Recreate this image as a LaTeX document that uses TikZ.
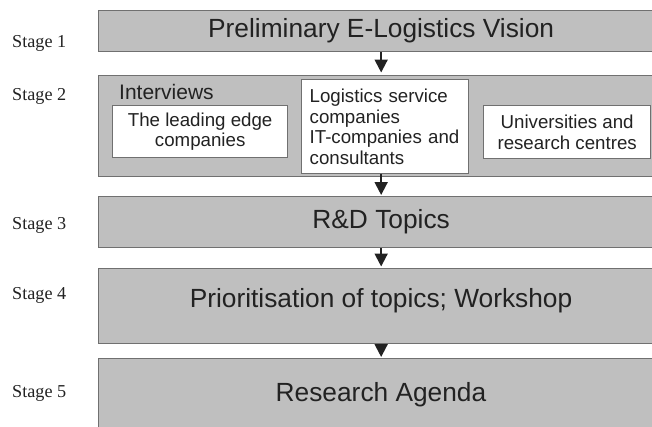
\documentclass[tikz,border=0pt]{standalone}
\usepackage{fontspec}
\setmainfont{Liberation Serif}
\newfontfamily\arialf{Liberation Sans}
\usetikzlibrary{arrows.meta}
\definecolor{boxgray}{RGB}{191,191,191}
\definecolor{edgegray}{RGB}{112,112,112}
\definecolor{inkc}{RGB}{34,34,34}
\begin{document}
\begin{tikzpicture}[x=1pt,y=-1pt,
  stagebox/.style={draw=edgegray, fill=boxgray, line width=1.3pt, anchor=north west, inner sep=0pt, minimum width=565pt},
  whitebox/.style={draw=edgegray, fill=white, line width=1.3pt, anchor=north west, inner sep=0pt, text=inkc,
     font=\arialf\fontsize{18.7}{20.5}\selectfont},
  bigtxt/.style={font=\arialf\fontsize{26.3}{30}\selectfont, text=inkc, inner sep=0pt},
  stagelbl/.style={font=\fontsize{18.2}{20}\selectfont, text=inkc, anchor=base west, inner sep=0pt},
  arr/.style={draw=inkc, line width=2pt, -{Triangle[width=13pt,length=13pt]}}
]
\useasboundingbox (0,0) rectangle (652,426);
\clip (0,0) rectangle (652,426);

% stage boxes
\node[stagebox, minimum height=41pt] (s1) at (98,10) {};
\node[stagebox, minimum height=101pt] (s2) at (98,75) {};
\node[stagebox, minimum height=51pt] (s3) at (98,196) {};
\node[stagebox, minimum height=75pt] (s4) at (98,268) {};
\node[stagebox, minimum height=90pt] (s5) at (98,358) {};

% box texts
\node[bigtxt] (t1) at (s1.center) {Preliminary E-Logistics Vision};
\node[bigtxt] (t3) at (s3.center) {R\&D Topics};
\node[bigtxt] (t4) at (381,301) {Prioritisation of topics; Workshop};
\node[bigtxt] (t5) at (381,395) {Research Agenda};

% stage 2 content
\node[font=\arialf\fontsize{21}{24}\selectfont, text=inkc, anchor=base west, inner sep=0pt] (iv) at (119,99) {Interviews};
\node[whitebox, minimum width=175pt, minimum height=52pt, align=center] (lead) at (112,105) {The leading edge\\companies};
\node[whitebox, minimum width=167pt, minimum height=94pt, align=left, text width=151pt, inner xsep=8pt] (mid) at (301,79) {Logistics service\\companies\\IT-companies and\\consultants};
\node[whitebox, minimum width=167pt, minimum height=53pt, align=center] (univ) at (483,105) {Universities and\\research centres};

% stage labels
\node[stagelbl] (l1) at (12,47) {Stage 1};
\node[stagelbl] (l2) at (12,100) {Stage 2};
\node[stagelbl] (l3) at (12,229) {Stage 3};
\node[stagelbl] (l4) at (12,299) {Stage 4};
\node[stagelbl] (l5) at (12,397) {Stage 5};

% arrows
\draw[arr] (s1.south) -- ([yshift=2.5pt]s2.north);
\draw[arr] (s3.north |- mid.south) -- ([yshift=1pt]s3.north);
\draw[arr] (s3.south) -- ([yshift=1.5pt]s4.north);
\draw[arr] (s4.south) -- ([yshift=1pt]s5.north);
\end{tikzpicture}
\end{document}
